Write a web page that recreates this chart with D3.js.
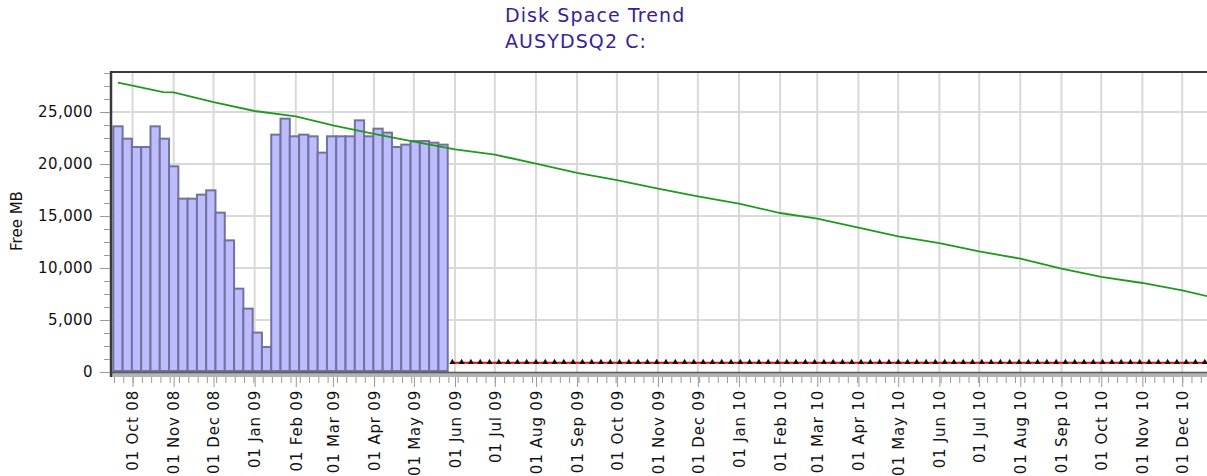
<!DOCTYPE html>
<html>
<head>
<meta charset="utf-8">
<script src="https://cdn.jsdelivr.net/npm/d3@7"></script>
<style>
  body { margin: 0; background: #fff; }
  svg { display: block; font-family: "DejaVu Sans", Verdana, sans-serif; }
</style>
</head>
<body>
<svg width="1207" height="476"></svg>
<script>
// weekly samples (bars)
const weekDates = ["2008-09-20", "2008-09-27", "2008-10-04", "2008-10-11", "2008-10-18", "2008-10-25",
  "2008-11-01", "2008-11-08", "2008-11-15", "2008-11-22", "2008-11-29", "2008-12-06", "2008-12-13",
  "2008-12-20", "2008-12-27", "2009-01-03", "2009-01-10", "2009-01-17", "2009-01-24", "2009-01-31",
  "2009-02-07", "2009-02-14", "2009-02-21", "2009-02-28", "2009-03-07", "2009-03-14", "2009-03-21",
  "2009-03-28", "2009-04-04", "2009-04-11", "2009-04-18", "2009-04-25", "2009-05-02", "2009-05-09",
  "2009-05-16", "2009-05-23"];
const freeMB = [23625, 22440, 21635, 21635, 23625, 22440, 19780, 16670, 16670, 17055, 17470, 15325,
  12660, 8015, 6095, 3790, 2405, 22825, 24365, 22665, 22825, 22665, 21095, 22665, 22665, 22665,
  24200, 22665, 23400, 23020, 21635, 21865, 22210, 22210, 22055, 21865];

// trend line (green)
const trendDates = ["2008-09-20", "2008-10-01", "2008-10-24", "2008-11-01", "2008-12-01", "2009-01-01",
  "2009-02-01", "2009-03-01", "2009-04-01", "2009-05-01", "2009-06-01", "2009-07-01", "2009-08-01",
  "2009-09-01", "2009-10-01", "2009-11-01", "2009-12-01", "2010-01-01", "2010-02-01", "2010-03-01",
  "2010-04-01", "2010-05-01", "2010-06-01", "2010-07-01", "2010-08-01", "2010-09-01", "2010-10-01",
  "2010-11-01", "2010-12-01", "2010-12-31"];
const trendMB = [27830, 27540, 26920, 26890, 25960, 25100, 24590, 23720, 22900, 22150, 21410, 20900,
  20040, 19140, 18450, 17640, 16900, 16190, 15290, 14750, 13890, 13050, 12400, 11600, 10900, 9940,
  9140, 8560, 7860, 6950];

// threshold line (red), weekly markers
const limitMB = 900;
const limitStart = "2009-05-30";

const yTicks = [0, 5000, 10000, 15000, 20000, 25000];
const yMax = 28850;
const xStart = "2008-09-14", xEnd = "2010-12-31";

const parse = d3.utcParse("%Y-%m-%d");
const svg = d3.select("svg");

const plotL = 110, plotT = 72, plotB = 372, plotR = 1222;
const x = d3.scaleUtc().domain([parse(xStart), parse(xEnd)]).range([plotL, plotR]);
const y = d3.scaleLinear().domain([0, yMax]).range([plotB, plotT]);

const bars = weekDates.map((d, i) => ({ date: parse(d), v: freeMB[i] }));
const trend = trendDates.map((d, i) => ({ date: parse(d), v: trendMB[i] }));
const limitDates = d3.utcSaturday.range(parse(limitStart), parse(xEnd));

svg.append("defs").append("clipPath").attr("id", "plot")
  .append("rect").attr("x", plotL).attr("y", plotT).attr("width", plotR - plotL).attr("height", plotB - plotT);

// title
const title = svg.append("text")
  .attr("fill", "#3a2199")
  .attr("font-size", 19).attr("letter-spacing", 1.1);
title.append("tspan").attr("x", 505).attr("y", 22).text("Disk Space Trend");
title.append("tspan").attr("x", 505).attr("y", 48).text("AUSYDSQ2 C:");

// grid
const months = d3.utcMonth.range(parse("2008-10-01"), parse(xEnd));
const grid = svg.append("g").attr("stroke", "#d9d9d9").attr("stroke-width", 2);
grid.selectAll(".gy").data(yTicks.slice(1)).join("line")
  .attr("class", "gy")
  .attr("x1", plotL).attr("x2", plotR)
  .attr("y1", d => y(d)).attr("y2", d => y(d));
grid.selectAll(".gx").data(months).join("line")
  .attr("class", "gx")
  .attr("x1", d => x(d)).attr("x2", d => x(d))
  .attr("y1", plotT).attr("y2", plotB);

// bars
const half = 3.5 * 864e5;
svg.append("g").attr("clip-path", "url(#plot)")
  .selectAll("rect").data(bars).join("rect")
    .attr("x", d => x(new Date(+d.date - half)))
    .attr("width", d => x(new Date(+d.date + half)) - x(new Date(+d.date - half)))
    .attr("y", d => y(d.v))
    .attr("height", d => y(0) - y(d.v) - 1)
    .attr("fill", "#bcbcff")
    .attr("stroke", "#72729e")
    .attr("stroke-width", 2);

// trend line
svg.append("path").datum(trend)
  .attr("clip-path", "url(#plot)")
  .attr("fill", "none").attr("stroke", "#1f9a1f").attr("stroke-width", 1.8)
  .attr("d", d3.line().x(d => x(d.date)).y(d => y(d.v)));

// red limit line with markers
const limitG = svg.append("g").attr("clip-path", "url(#plot)");
limitG.append("line")
  .attr("x1", x(limitDates[0])).attr("x2", plotR)
  .attr("y1", y(limitMB)).attr("y2", y(limitMB))
  .attr("stroke", "#ff0000").attr("stroke-width", 2);
limitG.selectAll("path").data(limitDates).join("path")
  .attr("d", d3.symbol(d3.symbolTriangle, 16))
  .attr("transform", d => `translate(${x(d)},${y(limitMB) - 0.5})`)
  .attr("fill", "#111");

// frame
svg.append("line").attr("x1", plotL).attr("x2", 1207).attr("y1", plotT).attr("y2", plotT)
  .attr("stroke", "#3a3a3a").attr("stroke-width", 2);
svg.append("rect").attr("x", plotL).attr("y", plotB).attr("width", 1207 - plotL).attr("height", 5)
  .attr("fill", "#b4b4b4");
svg.append("line").attr("x1", plotL).attr("x2", 1207).attr("y1", plotB + 0.5).attr("y2", plotB + 0.5)
  .attr("stroke", "#5a5a5a").attr("stroke-width", 1.5);
svg.append("line").attr("x1", plotL + 1).attr("x2", plotL + 1).attr("y1", plotT - 1).attr("y2", plotB + 5)
  .attr("stroke", "#3a3a3a").attr("stroke-width", 2.5);

// y axis
const yMinor = svg.append("g").attr("transform", `translate(${plotL},0)`)
  .call(d3.axisLeft(y).tickValues(d3.range(0, yMax, 1250)).tickSize(6).tickFormat(""));
yMinor.select(".domain").remove();
yMinor.selectAll("line").attr("stroke", "#999");
const yMajor = svg.append("g").attr("transform", `translate(${plotL},0)`)
  .call(d3.axisLeft(y).tickValues(yTicks).tickSize(10).tickPadding(7).tickFormat(d3.format(",")));
yMajor.select(".domain").remove();
yMajor.selectAll("line").attr("stroke", "#999");
yMajor.selectAll("text").attr("font-size", 15).attr("letter-spacing", 0.4)
  .attr("fill", "#111").attr("font-family", "DejaVu Sans");

svg.append("text")
  .attr("transform", "translate(22,221) rotate(-90)")
  .attr("text-anchor", "middle").attr("font-size", 15).attr("fill", "#111")
  .text("Free MB");

// x axis
const xAxisY = plotB + 5;
const xMinor = svg.append("g").attr("transform", `translate(0,${xAxisY})`)
  .call(d3.axisBottom(x).tickValues(d3.utcWednesday.range(parse(xStart), parse(xEnd))).tickSize(6).tickFormat(""));
xMinor.select(".domain").remove();
xMinor.selectAll("line").attr("stroke", "#999");
const xMajor = svg.append("g").attr("transform", `translate(0,${xAxisY})`)
  .call(d3.axisBottom(x).tickValues(months).tickSize(10).tickFormat(d3.utcFormat("%d %b %y")));
xMajor.select(".domain").remove();
xMajor.selectAll("line").attr("stroke", "#999");
xMajor.selectAll("text")
  .attr("font-size", 15).attr("letter-spacing", 0.8).attr("fill", "#111")
  .attr("font-family", "DejaVu Sans")
  .attr("text-anchor", "end")
  .attr("transform", "rotate(-90)")
  .attr("x", -13).attr("y", 0).attr("dy", "0.35em");
</script>
</body>
</html>
